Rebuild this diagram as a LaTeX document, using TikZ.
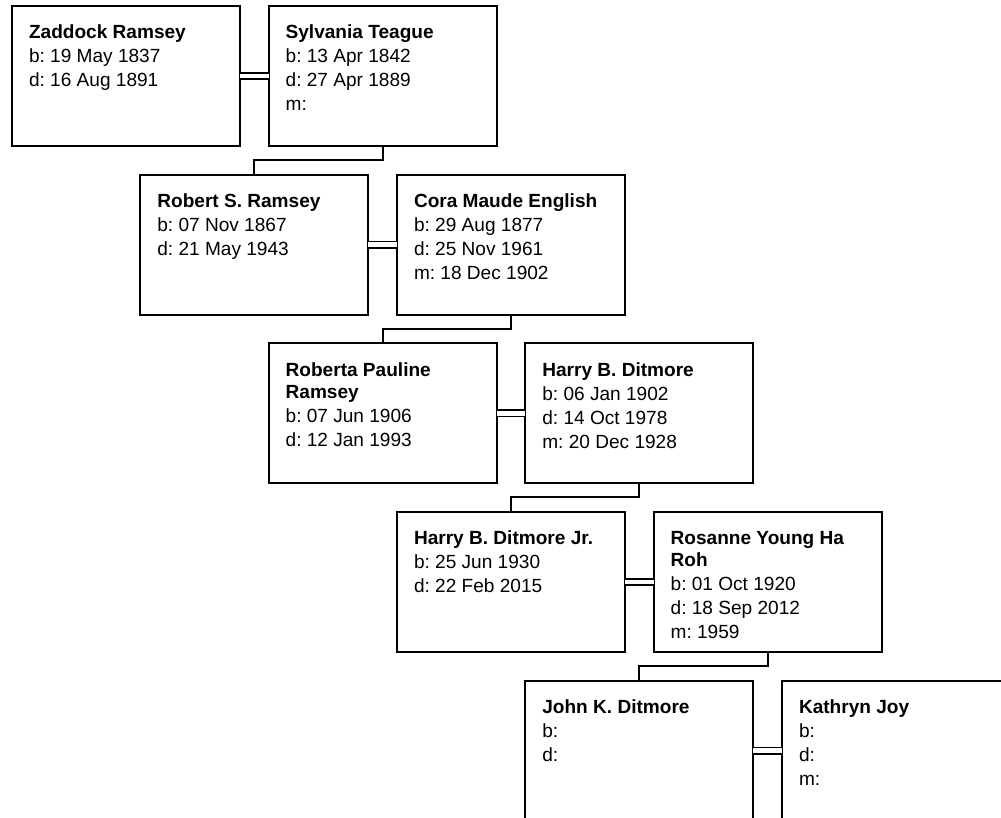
\documentclass[tikz,border=0pt]{standalone}
\usepackage{fontspec}
\setmainfont{Liberation Sans}
\usetikzlibrary{
    positioning,
    calc
}
\tikzstyle{person} = [
    rectangle,
    draw=black,
    line width=1.3pt,
    fill=white,
    minimum width=171pt,
    minimum height=105pt,
    inner sep=0pt,
    outer sep=0pt,
    font=\fontsize{14.3}{18}\selectfont
]
\tikzstyle{marriage} = [
    draw=black,
    line width=1.3pt,
    double=white,
    double distance=3.3pt
]
\tikzstyle{descent} = [
    draw=black,
    line width=1.4pt
]
\newcommand{\card}[1]{\parbox[c][76.5pt][t]{145.5pt}{\raggedright\frenchspacing #1}}

\begin{document}
\begin{tikzpicture}[node distance=21.5pt]
        \useasboundingbox (0,0) rectangle (750.75pt,-613.5pt);
        \clip (0,0) rectangle (750.75pt,-613.5pt);

        % Generation 1
        \node[person, anchor=north west] (zaddock) at (9pt,-4.5pt)
            {\card{\textbf{Zaddock Ramsey}\\ b: 19 May 1837\\ d: 16 Aug 1891}};
        \node[person, right=of zaddock] (sylvania)
            {\card{\textbf{Sylvania Teague}\\ b: 13 Apr 1842\\ d: 27 Apr 1889\\ m:}};
        \draw[marriage] (zaddock) -- (sylvania);
        \coordinate (c1) at ($(zaddock.south)!0.5!(sylvania.south)$);

        % Generation 2
        \node[person, below=of c1] (robert)
            {\card{\textbf{Robert S. Ramsey}\\ b: 07 Nov 1867\\ d: 21 May 1943}};
        \node[person, right=of robert] (cora)
            {\card{\textbf{Cora Maude English}\\ b: 29 Aug 1877\\ d: 25 Nov 1961\\ m: 18 Dec 1902}};
        \draw[marriage] (robert) -- (cora);
        \draw[descent] (sylvania.south) -- ++(0,-10.5pt) -| (robert.north);
        \coordinate (c2) at ($(robert.south)!0.5!(cora.south)$);

        % Generation 3
        \node[person, below=of c2] (roberta)
            {\card{\textbf{Roberta Pauline}\\[-1.5pt] \textbf{Ramsey}\\ b: 07 Jun 1906\\ d: 12 Jan 1993}};
        \node[person, right=of roberta] (harry)
            {\card{\textbf{Harry B. Ditmore}\\ b: 06 Jan 1902\\ d: 14 Oct 1978\\ m: 20 Dec 1928}};
        \draw[marriage] (roberta) -- (harry);
        \draw[descent] (cora.south) -- ++(0,-10.5pt) -| (roberta.north);
        \coordinate (c3) at ($(roberta.south)!0.5!(harry.south)$);

        % Generation 4
        \node[person, below=of c3] (harryjr)
            {\card{\textbf{Harry B. Ditmore Jr.}\\ b: 25 Jun 1930\\ d: 22 Feb 2015}};
        \node[person, right=of harryjr] (rosanne)
            {\card{\textbf{Rosanne Young Ha}\\[-1.5pt] \textbf{Roh}\\ b: 01 Oct 1920\\ d: 18 Sep 2012\\ m: 1959}};
        \draw[marriage] (harryjr) -- (rosanne);
        \draw[descent] (harry.south) -- ++(0,-10.5pt) -| (harryjr.north);
        \coordinate (c4) at ($(harryjr.south)!0.5!(rosanne.south)$);

        % Generation 5
        \node[person, below=of c4] (john)
            {\card{\textbf{John K. Ditmore}\\ b:\\ d:}};
        \node[person, right=of john] (kathryn)
            {\card{\textbf{Kathryn Joy}\\ b:\\ d:\\ m:}};
        \draw[marriage] (john) -- (kathryn);
        \draw[descent] (rosanne.south) -- ++(0,-10.5pt) -| (john.north);
    \end{tikzpicture}
\end{document}
